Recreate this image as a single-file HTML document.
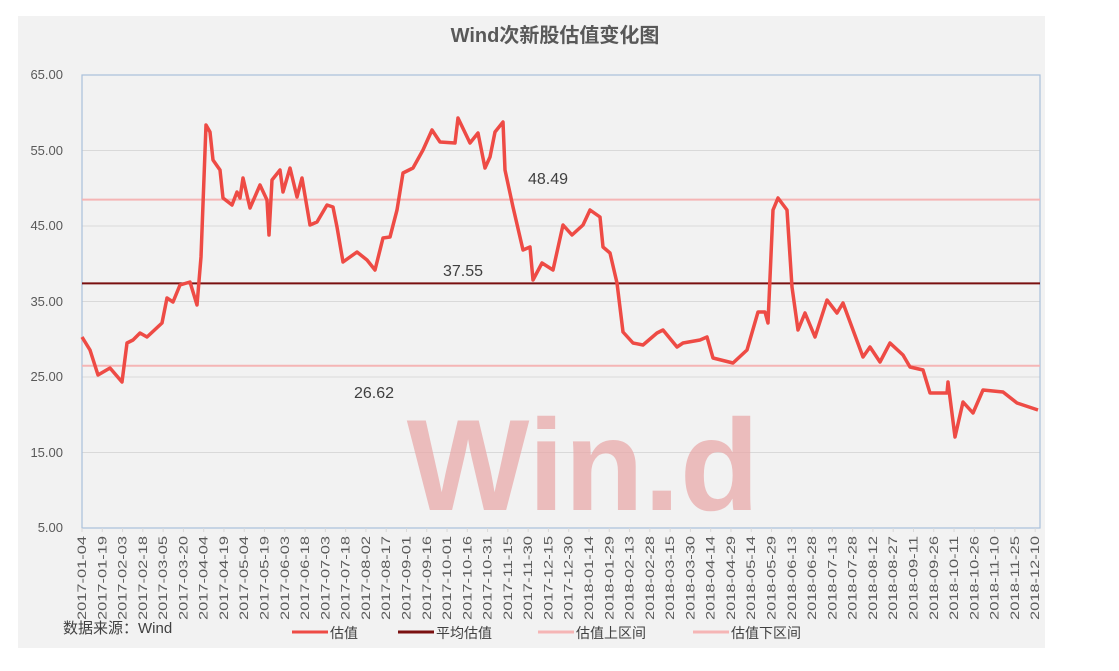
<!DOCTYPE html>
<html><head><meta charset="utf-8"><style>
body{margin:0;background:#fff;width:1119px;height:671px;overflow:hidden;font-family:"Liberation Sans","Noto Sans CJK SC",sans-serif}
</style></head><body>
<svg width="1119" height="671" xmlns="http://www.w3.org/2000/svg" style="position:absolute;left:0;top:0">
<rect x="18" y="16" width="1027" height="632" fill="#f2f2f2"/>
<text x="555" y="42" text-anchor="middle" font-size="20" font-weight="bold" fill="#595959" font-family="Liberation Sans,Noto Sans CJK SC,sans-serif">Wind次新股估值变化图</text>
<g stroke="#d9d9d9" stroke-width="1">
<line x1="82" x2="1040" y1="150.5" y2="150.5"/><line x1="82" x2="1040" y1="226" y2="226"/>
<line x1="82" x2="1040" y1="301.5" y2="301.5"/><line x1="82" x2="1040" y1="377" y2="377"/>
<line x1="82" x2="1040" y1="452.5" y2="452.5"/>
</g>
<rect x="82" y="75" width="958" height="453" fill="none" stroke="#a9c0dc" stroke-width="1.2"/>
<g font-size="13" fill="#595959" text-anchor="end">
<text x="63" y="79">65.00</text><text x="63" y="155">55.00</text><text x="63" y="230">45.00</text>
<text x="63" y="306">35.00</text><text x="63" y="381">25.00</text><text x="63" y="457">15.00</text><text x="63" y="532">5.00</text>
</g>
<text x="583" y="510" text-anchor="middle" font-size="130" font-weight="bold" fill="#e8a5a5" fill-opacity="0.7">Win.d</text>
<line x1="82" x2="1040" y1="199.6" y2="199.6" stroke="#f5b5b5" stroke-width="2"/>
<line x1="82" x2="1040" y1="365.8" y2="365.8" stroke="#f5b5b5" stroke-width="2"/>
<line x1="82" x2="1040" y1="283.4" y2="283.4" stroke="#7a1010" stroke-width="2"/>
<g font-size="16" fill="#404040">
<text x="528" y="184">48.49</text><text x="443" y="276">37.55</text><text x="354" y="398">26.62</text>
</g>
<polyline fill="none" stroke="#ee4b45" stroke-width="3.5" stroke-linejoin="round" points="82,337 90,350 98,375 110,368 122,382 127,343 133,340 140,333 147,337 162,323 167,298 173,302 180,285 190,282 197,305 201,257 206,125 210,132 213,160 220,170 223,198 232,205 237,192 240,198 243,178 250,208 260,185 267,200 269,235 272,180 280,170 283,192 290,168 297,197 302,178 310,225 317,222 327,205 333,207 337,227 343,262 357,252 367,260 375,270 383,238 390,237 397,210 403,173 413,168 423,150 432,130 440,142 455,143 458,118 470,143 478,133 485,168 490,157 495,132 503,122 505,170 513,207 523,250 530,247 533,280 542,263 553,270 563,225 572,235 583,225 590,210 600,217 603,247 610,253 617,283 623,332 633,343 643,345 657,333 663,330 677,347 683,343 700,340 707,337 713,358 733,363 747,350 758,312 765,312 768,323 773,210 778,198 787,210 792,287 798,330 805,313 815,337 827,300 837,313 843,303 853,330 863,357 870,347 880,362 890,343 903,355 910,367 923,370 930,393 947,393 948,382 955,437 963,402 973,413 983,390 1003,392 1017,403 1038,410"/>
<g font-size="12" fill="#595959" text-anchor="end" id="xl"></g>
<g font-size="14" fill="#404040">
<text x="63" y="633" font-size="15">数据来源：Wind</text>
<line x1="292" x2="328" y1="632" y2="632" stroke="#ee4b45" stroke-width="3"/><text x="330" y="638">估值</text>
<line x1="398" x2="434" y1="632" y2="632" stroke="#7a1010" stroke-width="3"/><text x="436" y="638">平均估值</text>
<line x1="538" x2="574" y1="632" y2="632" stroke="#f5b5b5" stroke-width="3"/><text x="576" y="638">估值上区间</text>
<line x1="693" x2="729" y1="632" y2="632" stroke="#f5b5b5" stroke-width="3"/><text x="731" y="638">估值下区间</text>
</g>
</svg>
<script>
var g=document.getElementById('xl');var d=new Date(Date.UTC(2017,0,4));var ns='http://www.w3.org/2000/svg';
for(var i=0;i<48;i++){var x=82+i*20.28;var s=d.toISOString().slice(0,10);
var t=document.createElementNS(ns,'text');t.setAttribute('transform','translate('+(x+4)+',536) rotate(-90)');t.setAttribute('textLength','84');t.setAttribute('lengthAdjust','spacingAndGlyphs');t.textContent=s;g.appendChild(t);
var l=document.createElementNS(ns,'line');l.setAttribute('x1',x);l.setAttribute('x2',x);l.setAttribute('y1',528);l.setAttribute('y2',532);l.setAttribute('stroke','#d9d9d9');g.appendChild(l);
d=new Date(d.getTime()+15*86400000);}
</script>
</body></html>
